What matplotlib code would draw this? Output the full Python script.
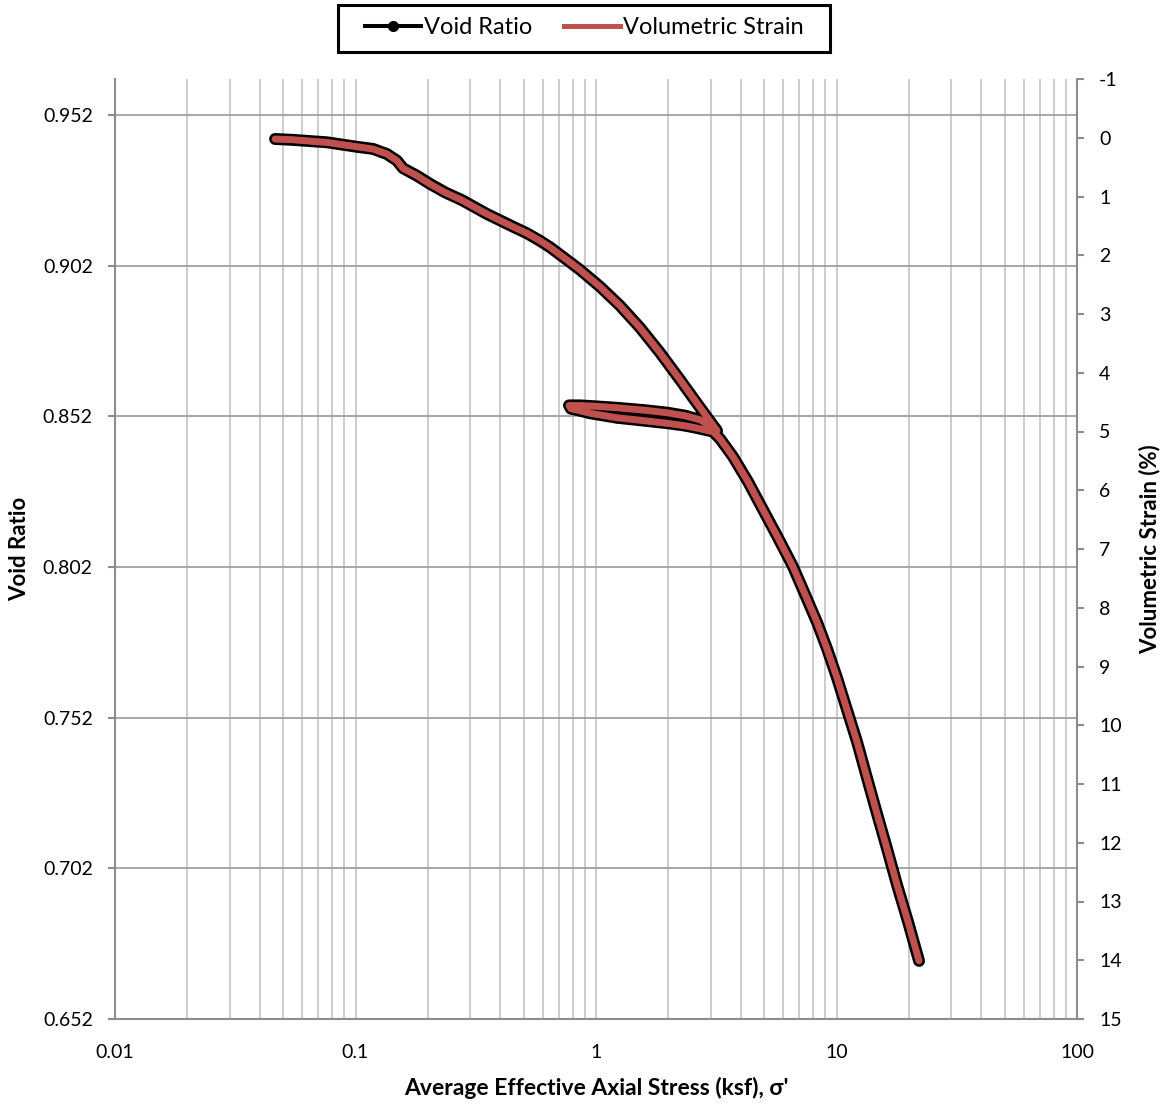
import matplotlib
matplotlib.use("Agg")
import matplotlib.pyplot as plt
from matplotlib.lines import Line2D
from matplotlib.patches import Rectangle
from matplotlib.ticker import LogLocator, FixedLocator, NullFormatter

plt.rcParams['font.family'] = ['Lato', 'DejaVu Sans']

# ---- data ----
# loading -> unloading -> reloading -> loading
stress_ksf = [0.0463, 0.0550, 0.0761, 0.1014, 0.1183, 0.1352, 0.1488, 0.1576,
              0.1802, 0.2041, 0.2356, 0.2773, 0.3523, 0.4518, 0.5164, 0.5852,
              0.6436, 0.7086, 0.8581, 1.039, 1.258, 1.524, 1.846, 2.236, 2.656, 3.185,
              2.979, 2.706, 2.345, 1.974, 1.598, 1.223, 0.9905, 0.8581, 0.7722,
              0.7871, 0.8416, 0.944, 1.223, 1.598, 1.974, 2.345, 2.706, 3.066,
              3.279, 3.712, 4.286, 4.947, 5.712, 6.594, 7.396, 8.30, 9.131,
              10.05, 11.058, 12.17, 13.39, 14.74, 16.22, 17.85, 19.83, 22.03]

void_ratio = [0.9440, 0.9437, 0.9429, 0.9414, 0.9407, 0.9390, 0.9368, 0.9343,
              0.9318, 0.9291, 0.9263, 0.9237, 0.9191, 0.9149, 0.9127, 0.9102,
              0.9081, 0.9056, 0.9006, 0.8950, 0.8887, 0.8814, 0.8731, 0.8641, 0.8558, 0.8472,
              0.8489, 0.8508, 0.8522, 0.8532, 0.8540, 0.8548, 0.8553, 0.8556, 0.8556,
              0.8545, 0.8540, 0.8530, 0.8515, 0.8505, 0.8497, 0.8489, 0.8479, 0.8469,
              0.8445, 0.8386, 0.8303, 0.8210, 0.8117, 0.8021, 0.7929, 0.7836, 0.7749,
              0.7652, 0.7546, 0.7440, 0.7320, 0.7201, 0.7085, 0.6965, 0.6843, 0.6713]

vol_strain_pct = [0.022, 0.034, 0.080, 0.153, 0.192, 0.277, 0.391, 0.520,
                  0.647, 0.788, 0.931, 1.064, 1.299, 1.515, 1.626, 1.753,
                  1.864, 1.991, 2.247, 2.536, 2.860, 3.234, 3.660, 4.119, 4.545, 4.987,
                  4.902, 4.800, 4.732, 4.681, 4.638, 4.596, 4.570, 4.558, 4.558,
                  4.613, 4.638, 4.689, 4.766, 4.817, 4.860, 4.902, 4.953, 5.004,
                  5.123, 5.430, 5.855, 6.332, 6.809, 7.302, 7.770, 8.247, 8.698,
                  9.191, 9.736, 10.281, 10.894, 11.506, 12.102, 12.715, 13.345, 14.009]

void_ticks = [0.652, 0.702, 0.752, 0.802, 0.852, 0.902, 0.952]
void_tick_labels = ['0.652', '0.702', '0.752', '0.802', '0.852', '0.902', '0.952']
strain_ticks = list(range(-1, 16))
strain_tick_labels = [str(v) for v in strain_ticks]
x_ticks = [0.01, 0.1, 1, 10, 100]
x_tick_labels = ['0.01', '0.1', '1', '10', '100']

series_names = ['Void Ratio', 'Volumetric Strain']

# ---- figure ----
W, H = 1167, 1106
fig = plt.figure(figsize=(W / 100, H / 100), dpi=100)
L, R, T, B = 115, 1077, 79, 1019
ax = fig.add_axes([L / W, 1 - B / H, (R - L) / W, (B - T) / H])

ax.set_xscale('log')
ax.set_xlim(0.01, 100)
ax.set_ylim(0.652, 0.9639)

spine_col = '#8C8C8C'
for s in ['left', 'bottom', 'right']:
    ax.spines[s].set_color(spine_col)
    ax.spines[s].set_linewidth(1.5)
ax.spines['top'].set_visible(False)
ax.spines['right'].set_visible(False)

ax.xaxis.set_major_locator(FixedLocator(x_ticks))
ax.set_xticklabels(x_tick_labels)
ax.xaxis.set_minor_locator(LogLocator(base=10, subs=[2, 3, 4, 5, 6, 7, 8, 9], numticks=20))
ax.xaxis.set_minor_formatter(NullFormatter())
ax.tick_params(axis='x', which='both', length=0, pad=18, labelsize=14, colors='black')

ax.set_yticks(void_ticks)
ax.set_yticklabels(void_tick_labels)
ax.tick_params(axis='y', which='major', direction='out', length=5, width=1.5,
               color=spine_col, pad=11, labelsize=14, labelcolor='black')

ax.set_axisbelow(True)
ax.grid(axis='x', which='both', color='#C3C3C3', linewidth=1.2)
ax.grid(axis='y', which='major', color='#A0A0A0', linewidth=1.3)

ax.plot(stress_ksf, void_ratio, color='black', lw=8.6, marker='o', ms=6,
        solid_capstyle='round', solid_joinstyle='round', zorder=3)

ax2 = ax.twinx()
ax2.set_ylim(15, -1)
ax2.set_yticks(strain_ticks)
ax2.set_yticklabels(strain_tick_labels)
ax2.tick_params(axis='y', direction='out', length=5, width=1.5, color=spine_col,
                pad=11, labelsize=14, labelcolor='black')
for s in ['left', 'top', 'bottom']:
    ax2.spines[s].set_visible(False)
ax2.spines['right'].set_color(spine_col)
ax2.spines['right'].set_linewidth(1.5)

ax2.plot(stress_ksf, vol_strain_pct, color='#C0504D', lw=5.0,
         solid_capstyle='round', solid_joinstyle='round', zorder=4)

# axis titles
ax.set_xlabel("Average Effective Axial Stress (ksf), σ'", fontsize=16.5, fontweight='bold')
ax.xaxis.set_label_coords(0.5, (B - 1088) / (B - T))
ax.xaxis.label.set_va('center')

ax.set_ylabel('Void Ratio', fontsize=16, fontweight='bold')
ax.yaxis.set_label_coords((20 - L) / (R - L), 0.5)
ax.yaxis.label.set_va('center')
ax.yaxis.label.set_ha('center')

ax2.set_ylabel('Volumetric Strain (%)', fontsize=16, fontweight='bold', rotation=90)
ax2.yaxis.set_label_coords((1150 - L) / (R - L), 0.5)
ax2.yaxis.label.set_va('center')
ax2.yaxis.label.set_ha('center')

# legend
handles = [Line2D([], [], color='black', lw=2.9, marker='o', ms=7),
           Line2D([], [], color='#C0504D', lw=3.6)]
leg = fig.legend(handles, series_names, loc='center',
                 bbox_to_anchor=(584 / W, 1 - 28 / H), ncol=2, fontsize=17,
                 frameon=False, handlelength=2.4, handletextpad=0.1,
                 columnspacing=1.35)
fig.patches.append(Rectangle((338 / W, 1 - 52 / H), (830 - 338) / W, (52 - 5) / H,
                             transform=fig.transFigure, fill=False,
                             edgecolor='black', linewidth=2.2))

fig.savefig('out.png', dpi=100)
